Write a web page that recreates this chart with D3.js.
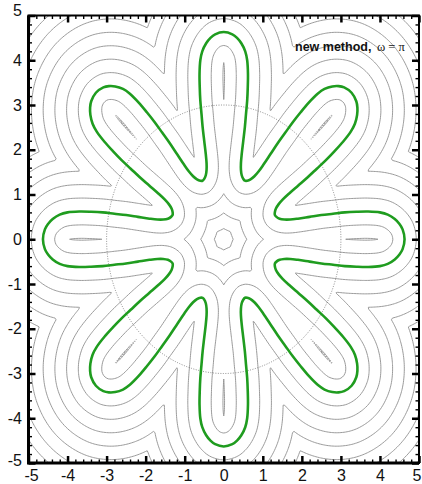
<!DOCTYPE html>
<html>
<head>
<meta charset="utf-8">
<script src="https://cdn.jsdelivr.net/npm/d3@7"></script>
<style>
  body { margin: 0; background: #fff; }
  svg text { font-family: "Liberation Sans", Arial, sans-serif; }
</style>
</head>
<body>
<div id="chart"></div>
<script>
// half of one petal of the green interface
// s = distance along the petal axis, w = half width of the petal
var petalS = [4.63, 4.58, 4.5, 4.38, 4.2, 4.0, 3.7, 3.4, 3.1, 2.8, 2.5, 2.2, 1.9, 1.7, 1.55, 1.43, 1.35, 1.31];
var petalW = [0, 0.22, 0.34, 0.45, 0.55, 0.6, 0.62, 0.615, 0.6, 0.57, 0.54, 0.5, 0.46, 0.44, 0.44, 0.46, 0.5, 0.54];
var petalAngles = [0, 45, 90, 135, 180, 225, 270, 315];

// gray level lines of the distance to the interface (green = 0)
var levels = [-2.7, -2.4, -2.1, -1.8, -1.5, -1.2, -0.9, -0.6, -0.3, 0.3, 0.6, 0.9, 1.2];
var circleRadius = 3;

var xTicks = [-5, -4, -3, -2, -1, 0, 1, 2, 3, 4, 5],
    yTicks = [-5, -4, -3, -2, -1, 0, 1, 2, 3, 4, 5];
var label = "new method,",
    labelOmega = "\u03c9 = \u03c0";

// variables
var width = 422,
    height = 484,
    margin = { top: 15.5, right: 3, bottom: 21, left: 28.5 };

var x = d3.scaleLinear().domain([-5, 5]).range([margin.left, width - margin.right]),
    y = d3.scaleLinear().domain([-5, 5]).range([height - margin.bottom, margin.top]);

var svg = d3.select("#chart")
  .append("svg")
  .attr("width", width)
  .attr("height", height);

svg.append("clipPath")
  .attr("id", "plot-clip")
  .append("rect")
  .attr("x", x(-5)).attr("y", y(5))
  .attr("width", x(5) - x(-5)).attr("height", y(-5) - y(5));

var plot = svg.append("g").attr("clip-path", "url(#plot-clip)");

// interface outline from the petal points
var outline = [];
petalAngles.forEach(function(a) {
  var c = Math.cos(a * Math.PI / 180), s = Math.sin(a * Math.PI / 180);
  var n = petalS.length, pts = [], i;
  for (i = n - 1; i >= 1; i--) pts.push([petalS[i], -petalW[i]]);
  pts.push([petalS[0], 0]);
  for (i = 1; i <= n - 2; i++) pts.push([petalS[i], petalW[i]]);
  pts.forEach(function(p) {
    outline.push([p[0] * c - p[1] * s, p[0] * s + p[1] * c]);
  });
});

var line = d3.line()
  .curve(d3.curveCatmullRomClosed.alpha(0.5))
  .x(function(d) { return x(d[0]); })
  .y(function(d) { return y(d[1]); });

var green = plot.append("path")
  .attr("d", line(outline))
  .attr("fill", "none")
  .attr("stroke", "#1f9c1f")
  .attr("stroke-width", 2.6);

// sample the drawn interface and build the signed distance grid
var node = green.node(),
    total = node.getTotalLength(),
    N = 1600;
var sx = new Float64Array(N), sy = new Float64Array(N), poly = [];
for (var k = 0; k < N; k++) {
  var p = node.getPointAtLength(total * k / N);
  sx[k] = x.invert(p.x);
  sy[k] = y.invert(p.y);
  if (k % 4 === 0) poly.push([sx[k], sy[k]]);
}

var g0 = -5.2, step = 0.04, n = 261;
var values = new Float64Array(n * n);
for (var j = 0; j < n; j++) {
  var Y = g0 + j * step;
  for (var i = 0; i < n; i++) {
    var X = g0 + i * step, m = Infinity;
    for (var q = 0; q < N; q++) {
      var dx = X - sx[q], dy = Y - sy[q], d2 = dx * dx + dy * dy;
      if (d2 < m) m = d2;
    }
    var d = Math.sqrt(m);
    values[j * n + i] = d3.polygonContains(poly, [X, Y]) ? d : -d;
  }
}

var contours = d3.contours().size([n, n]).thresholds(levels)(values);

var path = d3.geoPath(d3.geoTransform({
  point: function(cx, cy) {
    this.stream.point(x(g0 + (cx - 0.5) * step), y(g0 + (cy - 0.5) * step));
  }
}));

plot.insert("g", "path")
  .selectAll("path")
  .data(contours)
  .enter().append("path")
  .attr("d", path)
  .attr("fill", "none")
  .attr("stroke", "#8e8e8e")
  .attr("stroke-width", 0.9);

// dotted reference circle
plot.append("ellipse")
  .attr("cx", x(0)).attr("cy", y(0))
  .attr("rx", x(circleRadius) - x(0))
  .attr("ry", y(0) - y(circleRadius))
  .attr("fill", "none")
  .attr("stroke", "#6f6f6f")
  .attr("stroke-width", 0.8)
  .attr("stroke-dasharray", "1,1.5");

green.raise();

// axes with ticks pointing inwards
var minor = d3.range(-50, 51, 2).map(function(v) { return v / 10; })
  .filter(function(v) { return Math.abs(v - Math.round(v)) > 0.01; });

function axisLayer(axis, transform, values, size, fmt) {
  var g = svg.append("g")
    .attr("transform", transform)
    .call(axis.tickValues(values).tickSizeInner(size).tickSizeOuter(0).tickPadding(fmt ? 7 : 0).tickFormat(fmt || ""));
  g.select(".domain").remove();
  g.selectAll("line").attr("stroke", "#000");
  return g;
}

var fmt = function(d) { return d; };
var bottom = axisLayer(d3.axisBottom(x), "translate(0," + y(-5) + ")", xTicks, -7, fmt);
var left = axisLayer(d3.axisLeft(y), "translate(" + x(-5) + ",0)", yTicks, -7, fmt);
bottom.selectAll("line").attr("stroke-width", 2.5);
left.selectAll("line").attr("stroke-width", 2.5);
axisLayer(d3.axisTop(x), "translate(0," + y(5) + ")", xTicks, -7).selectAll("line").attr("stroke-width", 2.5);
axisLayer(d3.axisRight(y), "translate(" + x(5) + ",0)", yTicks, -7).selectAll("line").attr("stroke-width", 2.5);
[axisLayer(d3.axisBottom(x), "translate(0," + y(-5) + ")", minor, -3.5),
 axisLayer(d3.axisLeft(y), "translate(" + x(-5) + ",0)", minor, -3.5),
 axisLayer(d3.axisTop(x), "translate(0," + y(5) + ")", minor, -3.5),
 axisLayer(d3.axisRight(y), "translate(" + x(5) + ",0)", minor, -3.5)
].forEach(function(g) { g.selectAll("line").attr("stroke-width", 1.4); });

svg.selectAll(".tick text")
  .attr("font-size", 16)
  .attr("fill", "#111");
left.selectAll(".tick text")
  .attr("x", -6.5)
  .attr("y", function(d) { return d === 5 ? -5 : d === -5 ? -3 : 0; });
bottom.selectAll(".tick text")
  .attr("x", function(d) { return d === -5 ? 2.5 : d === 5 ? -2.5 : 0; });

// frame
svg.append("rect")
  .attr("x", x(-5)).attr("y", y(5))
  .attr("width", x(5) - x(-5)).attr("height", y(-5) - y(5))
  .attr("fill", "none").attr("stroke", "#000").attr("stroke-width", 2);
svg.append("path")
  .attr("d", "M" + x(-5) + "," + y(5) + "V" + y(-5) + "H" + x(5))
  .attr("fill", "none").attr("stroke", "#000").attr("stroke-width", 3);

// label
svg.append("text")
  .attr("x", 295).attr("y", 51)
  .attr("font-size", 12.5)
  .attr("font-weight", "bold")
  .attr("fill", "#111")
  .text(label);
svg.append("text")
  .attr("x", 377).attr("y", 51)
  .attr("font-size", 12.5)
  .style("font-family", "Liberation Serif, Times New Roman, serif")
  .attr("fill", "#111")
  .text(labelOmega);
</script>
</body>
</html>
